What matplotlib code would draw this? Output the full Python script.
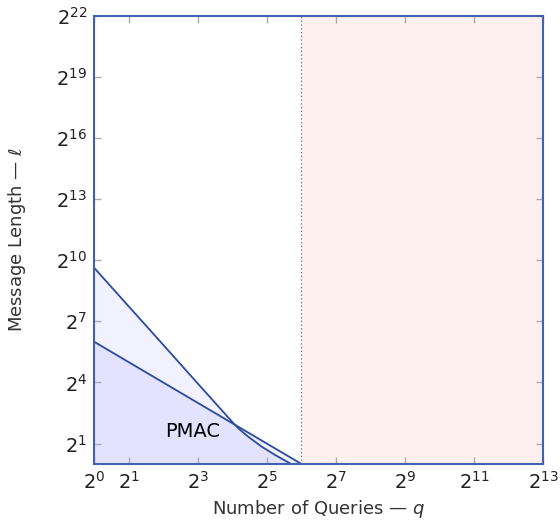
import numpy as np
import matplotlib
matplotlib.use('Agg')
import matplotlib.pyplot as plt
from matplotlib.ticker import FixedLocator, FixedFormatter, NullLocator

#------------------------------------------------------------------------------
# DATA (log2 exponents)
#------------------------------------------------------------------------------

# straight bound: l * q = 2^6
lower_logq = [0, 6]
lower_logl = [6, 0]

# curved bound
upper_logq = [0, 1, 2, 3, 3.7, 4.0, 4.2, 4.46, 4.85, 5.24, 5.67]
upper_logl = [9.63, 7.74, 5.85, 3.95, 2.63, 2.06, 1.71, 1.34, 0.85, 0.44, 0.03]

q_limit_log = 6
label_text = 'PMAC'
label_logq, label_logl = 2.84, 1.57

xtick_exps = [0, 1, 3, 5, 7, 9, 11, 13]
ytick_exps = [1, 4, 7, 10, 13, 16, 19, 22]

#------------------------------------------------------------------------------
# PLOT
#------------------------------------------------------------------------------

plt.rcParams['mathtext.fontset'] = 'dejavusans'
plt.rcParams['font.family'] = ['DejaVu Sans']

line_col = '#2b4c9c'
spine_col = '#4262b0'

fig = plt.figure(figsize=(5.6, 5.26), dpi=100)
ax = fig.add_axes([0.168, 0.118, 0.802, 0.852])
ax.set_xscale('log', base=2)
ax.set_yscale('log', base=2)
ax.set_xlim(2**0, 2**13)
ax.set_ylim(2**0, 2**22)

ql = 2.0 ** np.array(lower_logq)
ll = 2.0 ** np.array(lower_logl)
qu = 2.0 ** np.array(upper_logq)
lu = 2.0 ** np.array(upper_logl)

ax.axvspan(2**q_limit_log, 2**13, color='#fff0f0', lw=0, zorder=0)
ax.fill_between(ql, 1, ll, color='#0000ff', alpha=0.055, lw=0, zorder=1)
ax.fill_between(qu, 1, lu, color='#0000ff', alpha=0.055, lw=0, zorder=1)
ax.plot(ql, ll, color=line_col, lw=1.3, zorder=3)
ax.plot(qu, lu, color=line_col, lw=1.3, zorder=3)
ax.axvline(2**q_limit_log, color='#5a6fb8', lw=0.9, ls=(0, (1, 2)), zorder=2)

ax.text(2**label_logq, 2**label_logl, label_text, fontsize=14,
        ha='center', va='center', zorder=4)

ax.xaxis.set_major_locator(FixedLocator([2.0**e for e in xtick_exps]))
ax.xaxis.set_major_formatter(FixedFormatter([r'$2^{%d}$' % e for e in xtick_exps]))
ax.yaxis.set_major_locator(FixedLocator([2.0**e for e in ytick_exps]))
ax.yaxis.set_major_formatter(FixedFormatter([r'$2^{%d}$' % e for e in ytick_exps]))
ax.xaxis.set_minor_locator(NullLocator())
ax.yaxis.set_minor_locator(NullLocator())

ax.tick_params(which='major', direction='in', length=5, width=1, color='#aaaaaa',
               top=True, right=True, labelsize=14, labelcolor='#222222', pad=5)

for s in ax.spines.values():
    s.set_color(spine_col)
    s.set_linewidth(1.5)
    s.set_zorder(5)

ax.set_xlabel(r'Number of Queries — $q$', fontsize=13, color='#333333', labelpad=4)
ax.set_ylabel(r'Message Length — $\ell$', fontsize=13, color='#333333', labelpad=20)

fig.savefig('out.png', dpi=100)
